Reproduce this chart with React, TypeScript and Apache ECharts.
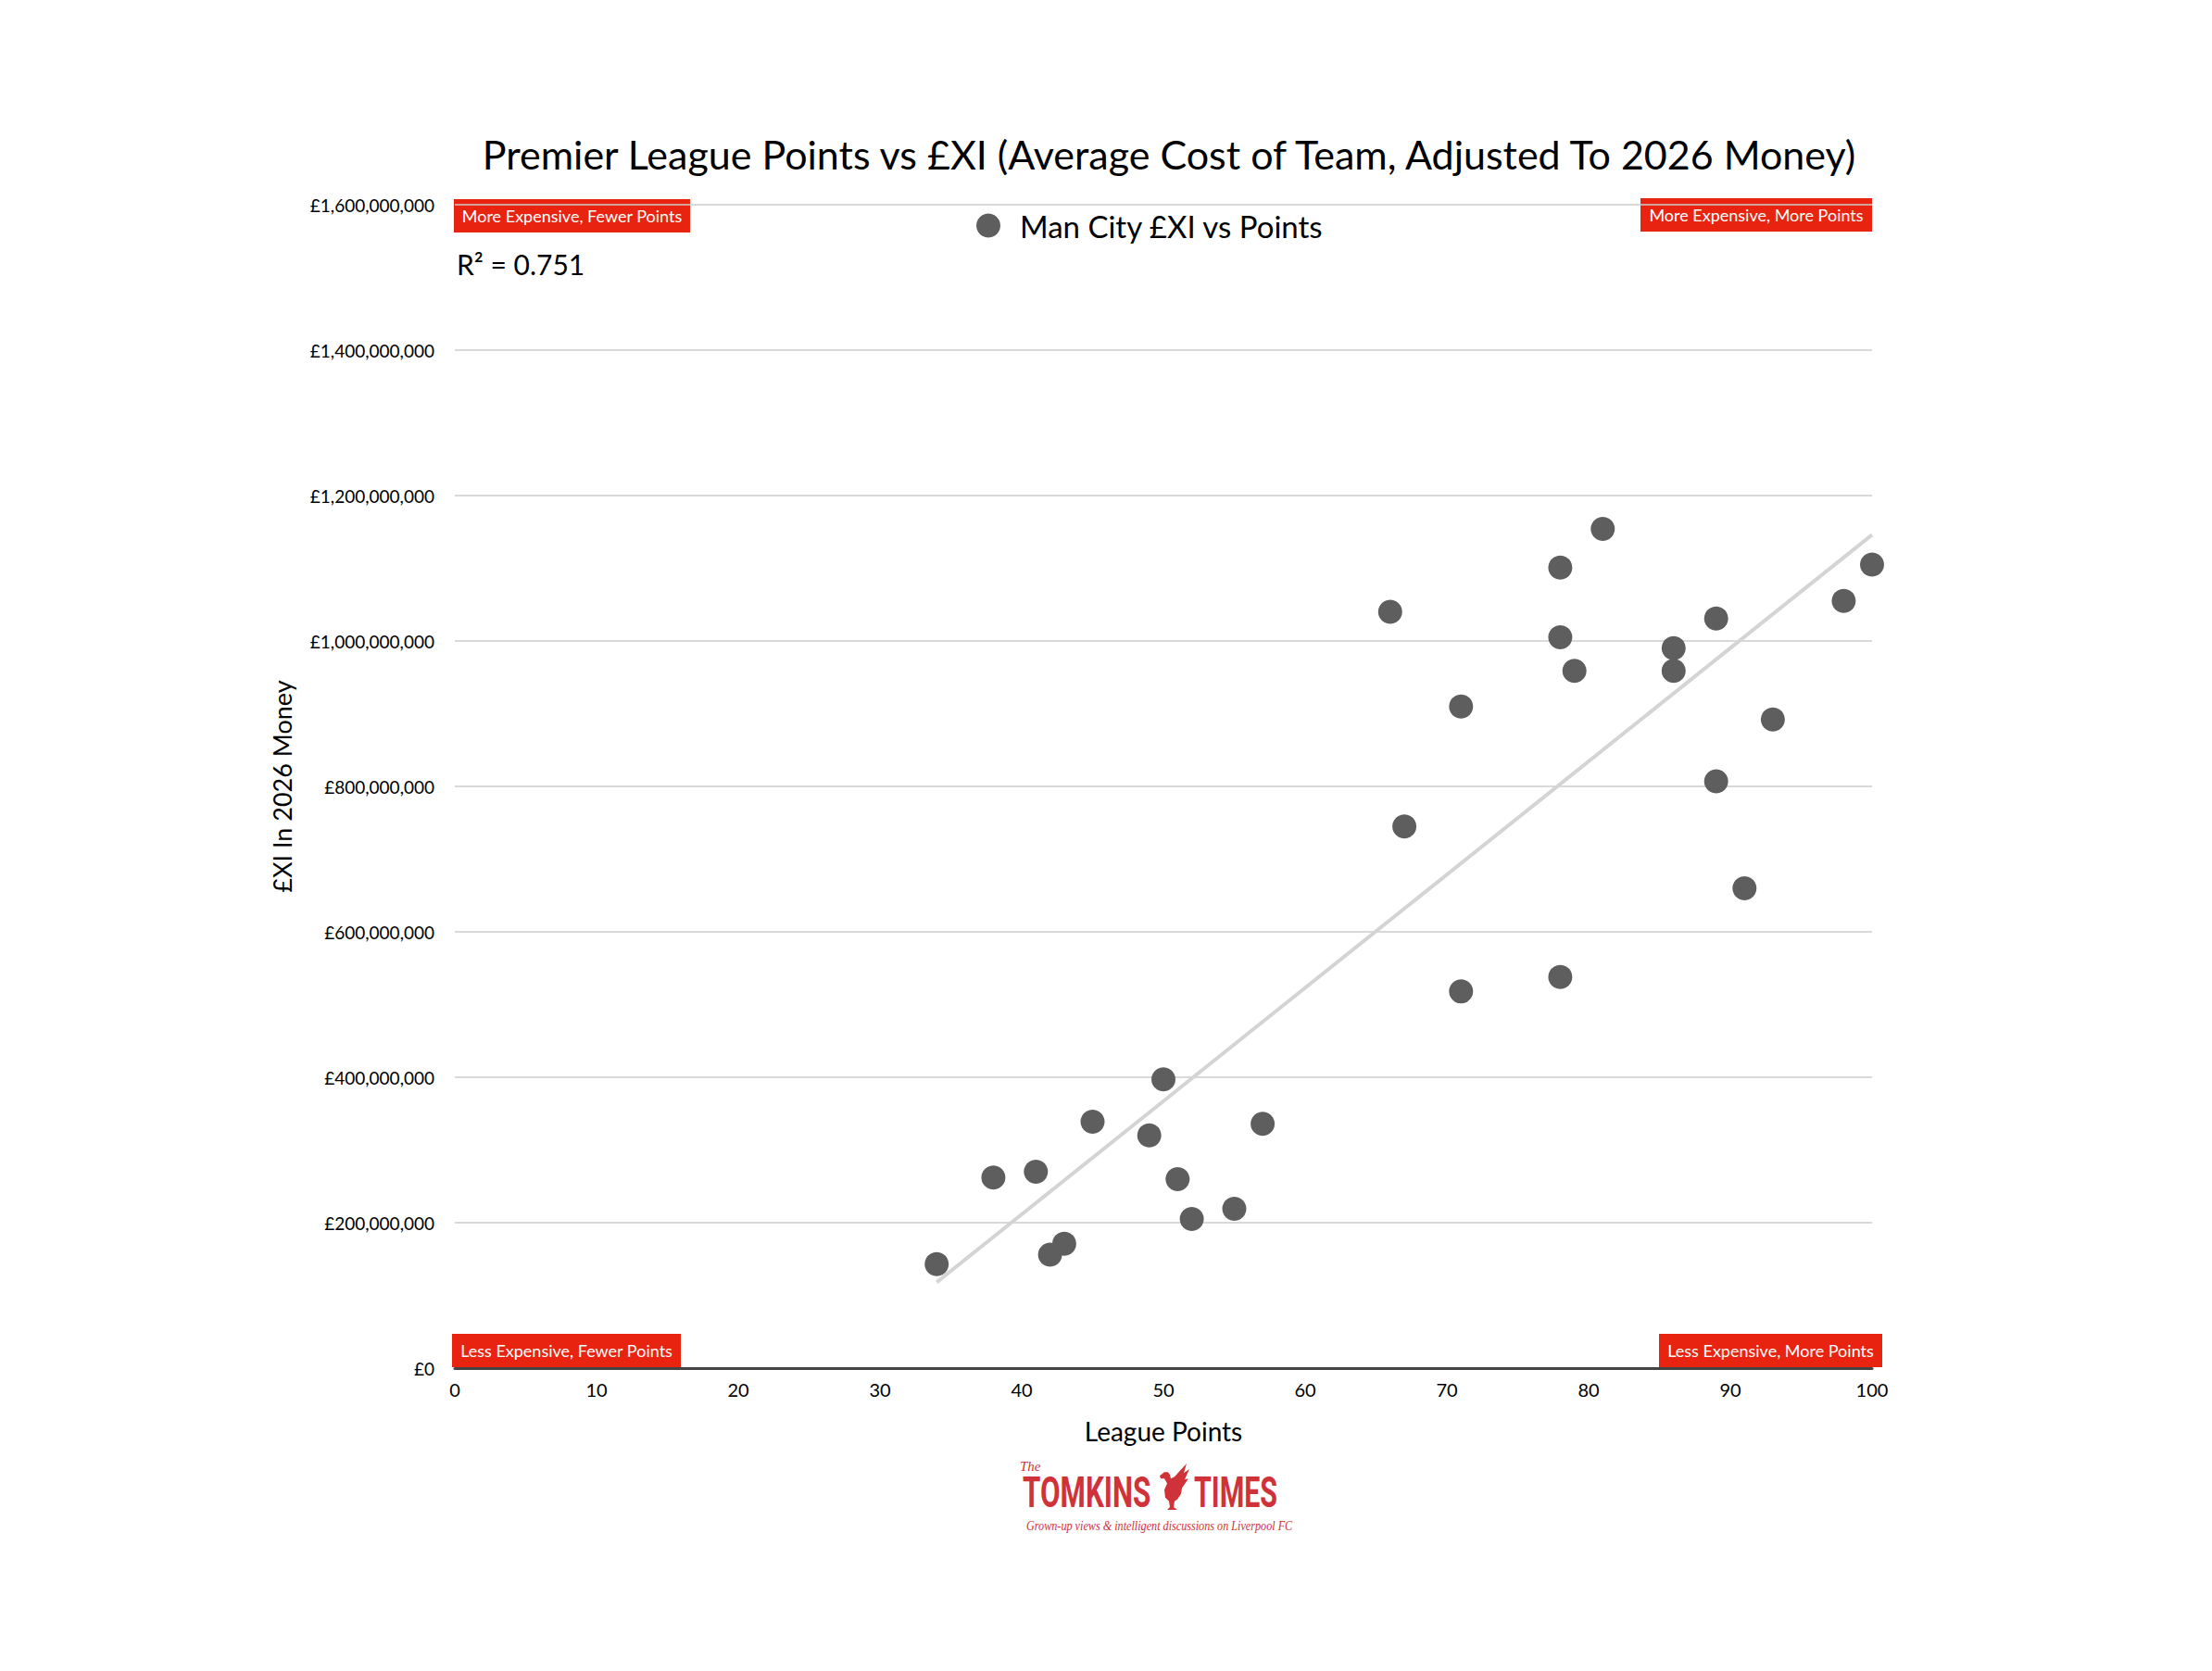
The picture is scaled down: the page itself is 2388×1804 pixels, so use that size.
import React, { useEffect, useRef } from "react";
import * as echarts from "echarts";

const seriesName = "Man City £XI vs Points";
const leaguePoints = [34, 38, 41, 42, 43, 45, 49, 50, 51, 52, 55, 57, 66, 67, 71, 71, 78, 78, 78, 79, 81, 86, 86, 89, 89, 91, 93, 98, 100];
const xiCost = [
  143e6, 262e6, 270e6, 156e6, 171e6, 339e6, 320e6, 397e6, 260e6, 205e6, 219e6, 336e6,
  1040e6, 745e6, 910e6, 518e6, 1101e6, 1005e6, 538e6, 959e6, 1154e6, 990e6, 959e6,
  1031e6, 807e6, 660e6, 892e6, 1055e6, 1105e6,
];
const trendX = [34, 100];
const trendY = [118e6, 1146e6];
const xTicks = { min: 0, max: 100, interval: 10 };
const yTicks = { min: 0, max: 1.6e9, interval: 2e8 };
const titleText = "Premier League Points vs £XI (Average Cost of Team, Adjusted To 2026 Money)";
const rSquared = "R² = 0.751";
const quadrantLabels = [
  "More Expensive, Fewer Points",
  "More Expensive, More Points",
  "Less Expensive, Fewer Points",
  "Less Expensive, More Points",
];

const FONT = "Lato, 'Noto Sans', sans-serif";
const RED = "#e8230f";
const LOGO_RED = "#cf3339";

const birdPath =
  "M4 13 L9 9 L13 9 L15 12 L16 16 L20 14 L33 0 L30 10 L36 6 L31 17 L35 16 L28 26 L27 32 L23 38 L20 40 L19 46 L23 49 L12 49 L15 46 L14 40 L10 36 L9 28 L12 21 L9 16 L5 16 Z";
echarts.graphic.registerShape("liverbird", echarts.graphic.extendPath(birdPath, {}) as any);

function box(label: string, x1: number, y1: number, x2: number, y2: number) {
  return {
    type: "group",
    children: [
      { type: "rect", shape: { x: x1, y: y1, width: x2 - x1, height: y2 - y1 }, style: { fill: RED } },
      {
        type: "text",
        x: (x1 + x2) / 2,
        y: (y1 + y2) / 2,
        style: { text: label, fill: "#fff", font: `18px ${FONT}`, align: "center", verticalAlign: "middle" },
      },
    ],
  };
}

export default function App() {
  const ref = useRef<HTMLDivElement>(null);
  useEffect(() => {
    document.body.style.margin = "0";
    const chart = echarts.init(ref.current!, undefined, { renderer: "svg" });
    const points = leaguePoints.map((p, i) => [p, xiCost[i]]);
    const trend = trendX.map((x, i) => [x, trendY[i]]);
    chart.setOption({
      animation: false,
      backgroundColor: "#ffffff",
      textStyle: { fontFamily: FONT },
      title: {
        text: titleText,
        left: 1257,
        top: 140,
        textAlign: "center",
        textStyle: { fontFamily: FONT, fontSize: 43, fontWeight: "normal", color: "#000" },
      },
      legend: {
        data: [seriesName],
        left: 1049,
        top: 222,
        icon: "circle",
        itemWidth: 26,
        itemHeight: 26,
        textStyle: { fontFamily: FONT, fontSize: 33, color: "#000", padding: [0, 0, 0, 16] },
      },
      grid: { left: 491, right: 367, top: 221, bottom: 327, containLabel: false },
      xAxis: {
        type: "value",
        min: xTicks.min,
        max: xTicks.max,
        interval: xTicks.interval,
        name: "League Points",
        nameLocation: "middle",
        nameGap: 54,
        nameTextStyle: { fontFamily: FONT, fontSize: 28, color: "#000" },
        axisLine: { show: true, lineStyle: { color: "#444", width: 3 } },
        axisTick: { show: false },
        splitLine: { show: false },
        axisLabel: { fontFamily: FONT, fontSize: 20, color: "#000", margin: 13 },
      },
      yAxis: {
        type: "value",
        min: yTicks.min,
        max: yTicks.max,
        interval: yTicks.interval,
        name: "£XI In 2026 Money",
        nameLocation: "middle",
        nameGap: 173,
        nameTextStyle: { fontFamily: FONT, fontSize: 27, color: "#000" },
        axisLine: { show: false },
        axisTick: { show: false },
        splitLine: { show: true, lineStyle: { color: "#cccccc", width: 1.5 } },
        axisLabel: {
          fontFamily: FONT,
          fontSize: 19,
          color: "#000",
          margin: 22,
          formatter: (v: number) => "£" + v.toLocaleString("en-GB"),
        },
      },
      series: [
        {
          name: "trend",
          type: "line",
          data: trend,
          symbol: "none",
          lineStyle: { color: "#d4d4d4", width: 4 },
          z: 1,
          silent: true,
        },
        {
          name: seriesName,
          type: "scatter",
          data: points,
          symbol: "circle",
          symbolSize: 26,
          itemStyle: { color: "#5e5e5e", opacity: 1 },
          z: 3,
        },
      ],
      graphic: [
        box(quadrantLabels[0], 490, 215, 745, 251),
        box(quadrantLabels[1], 1771, 214, 2021, 250),
        box(quadrantLabels[2], 488, 1440, 735, 1476),
        box(quadrantLabels[3], 1791, 1440, 2032, 1476),
        {
          type: "text",
          x: 493,
          y: 285,
          style: { text: rSquared, fill: "#000", font: `30px ${FONT}`, verticalAlign: "middle" },
        },
        {
          type: "text",
          x: 1101,
          y: 1583,
          style: { text: "The", fill: LOGO_RED, font: `italic 15px 'Liberation Serif', serif`, verticalAlign: "middle" },
        },
        {
          type: "text",
          x: 1104,
          y: 1612,
          scaleX: 0.68,
          style: { text: "TOMKINS", fill: LOGO_RED, font: `bold 46px Roboto, sans-serif`, verticalAlign: "middle" },
        },
        {
          type: "liverbird",
          x: 1248,
          y: 1580,
          scaleX: 1,
          scaleY: 1.02,
          style: { fill: LOGO_RED },
        },
        {
          type: "text",
          x: 1289,
          y: 1612,
          scaleX: 0.66,
          style: { text: "TIMES", fill: LOGO_RED, font: `bold 46px Roboto, sans-serif`, verticalAlign: "middle" },
        },
        {
          type: "text",
          x: 1108,
          y: 1647,
          scaleX: 0.87,
          style: {
            text: "Grown-up views & intelligent discussions on Liverpool FC",
            fill: LOGO_RED,
            font: `italic 14px 'Liberation Serif', serif`,
            verticalAlign: "middle",
          },
        },
      ],
    });
    return () => chart.dispose();
  }, []);
  return <div ref={ref} style={{ width: 2388, height: 1804 }} />;
}
